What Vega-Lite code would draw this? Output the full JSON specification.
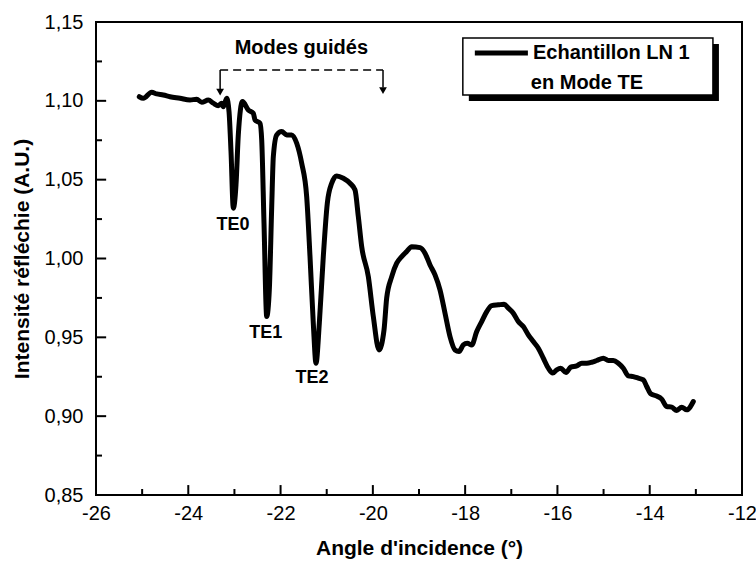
{
  "$schema": "https://vega.github.io/schema/vega-lite/v6.json",
  "width": 646,
  "height": 473,
  "autosize": {"type": "none"},
  "padding": {"left": 96, "top": 22, "right": 14, "bottom": 69},
  "background": "white",
  "config": {
    "view": {"stroke": "black", "strokeWidth": 2},
    "font": "Liberation Sans"
  },
  "datasets": {
    "curve": [
      {"x": -25.062, "y": 1.1026}, {"x": -24.975, "y": 1.1016}, {"x": -24.793, "y": 1.1054}, {"x": -24.684, "y": 1.1044},
      {"x": -24.541, "y": 1.1037}, {"x": -24.396, "y": 1.1026}, {"x": -24.180, "y": 1.1016}, {"x": -23.963, "y": 1.1005},
      {"x": -23.818, "y": 1.1010}, {"x": -23.709, "y": 1.0991}, {"x": -23.566, "y": 1.1005}, {"x": -23.458, "y": 1.0985},
      {"x": -23.349, "y": 1.0969}, {"x": -23.276, "y": 1.0985}, {"x": -23.241, "y": 1.0963}, {"x": -23.167, "y": 1.1016},
      {"x": -23.117, "y": 1.0931}, {"x": -23.074, "y": 1.0678}, {"x": -23.024, "y": 1.0319}, {"x": -22.966, "y": 1.0467},
      {"x": -22.916, "y": 1.0784}, {"x": -22.825, "y": 1.0995}, {"x": -22.699, "y": 1.0942}, {"x": -22.591, "y": 1.0921},
      {"x": -22.554, "y": 1.0879}, {"x": -22.446, "y": 1.0858}, {"x": -22.409, "y": 1.0752}, {"x": -22.359, "y": 1.0224},
      {"x": -22.300, "y": 0.9632}, {"x": -22.244, "y": 0.9801}, {"x": -22.192, "y": 1.0329}, {"x": -22.157, "y": 1.0646},
      {"x": -22.084, "y": 1.0784}, {"x": -21.975, "y": 1.0805}, {"x": -21.867, "y": 1.0784}, {"x": -21.759, "y": 1.0784},
      {"x": -21.650, "y": 1.0731}, {"x": -21.542, "y": 1.0604}, {"x": -21.434, "y": 1.0392}, {"x": -21.362, "y": 1.0012},
      {"x": -21.291, "y": 0.9590}, {"x": -21.232, "y": 0.9336}, {"x": -21.160, "y": 0.9590}, {"x": -21.074, "y": 1.0012},
      {"x": -20.987, "y": 1.0351}, {"x": -20.892, "y": 1.0477}, {"x": -20.783, "y": 1.0524}, {"x": -20.640, "y": 1.0509},
      {"x": -20.495, "y": 1.0477}, {"x": -20.387, "y": 1.0435}, {"x": -20.315, "y": 1.0266}, {"x": -20.242, "y": 1.0075},
      {"x": -20.098, "y": 0.9885}, {"x": -19.990, "y": 0.9632}, {"x": -19.867, "y": 0.9420}, {"x": -19.758, "y": 0.9547},
      {"x": -19.700, "y": 0.9750}, {"x": -19.591, "y": 0.9885}, {"x": -19.483, "y": 0.9970}, {"x": -19.375, "y": 1.0012},
      {"x": -19.266, "y": 1.0044}, {"x": -19.158, "y": 1.0075}, {"x": -18.978, "y": 1.0069}, {"x": -18.870, "y": 1.0034},
      {"x": -18.761, "y": 0.9959}, {"x": -18.653, "y": 0.9896}, {"x": -18.545, "y": 0.9801}, {"x": -18.436, "y": 0.9653},
      {"x": -18.328, "y": 0.9505}, {"x": -18.219, "y": 0.9420}, {"x": -18.133, "y": 0.9410}, {"x": -18.040, "y": 0.9452},
      {"x": -17.953, "y": 0.9463}, {"x": -17.857, "y": 0.9452}, {"x": -17.749, "y": 0.9537}, {"x": -17.641, "y": 0.9600},
      {"x": -17.532, "y": 0.9663}, {"x": -17.424, "y": 0.9701}, {"x": -17.281, "y": 0.9706}, {"x": -17.157, "y": 0.9710},
      {"x": -17.064, "y": 0.9685}, {"x": -16.956, "y": 0.9653}, {"x": -16.848, "y": 0.9600}, {"x": -16.739, "y": 0.9568},
      {"x": -16.631, "y": 0.9516}, {"x": -16.522, "y": 0.9473}, {"x": -16.414, "y": 0.9431}, {"x": -16.306, "y": 0.9368},
      {"x": -16.197, "y": 0.9304}, {"x": -16.102, "y": 0.9273}, {"x": -16.015, "y": 0.9294}, {"x": -15.929, "y": 0.9304},
      {"x": -15.814, "y": 0.9277}, {"x": -15.712, "y": 0.9311}, {"x": -15.582, "y": 0.9319}, {"x": -15.473, "y": 0.9336},
      {"x": -15.365, "y": 0.9336}, {"x": -15.257, "y": 0.9342}, {"x": -15.148, "y": 0.9353}, {"x": -15.005, "y": 0.9368},
      {"x": -14.897, "y": 0.9353}, {"x": -14.789, "y": 0.9353}, {"x": -14.680, "y": 0.9336}, {"x": -14.572, "y": 0.9304},
      {"x": -14.463, "y": 0.9256}, {"x": -14.355, "y": 0.9251}, {"x": -14.247, "y": 0.9241}, {"x": -14.138, "y": 0.9230},
      {"x": -14.065, "y": 0.9188}, {"x": -13.978, "y": 0.9142}, {"x": -13.863, "y": 0.9129}, {"x": -13.740, "y": 0.9108},
      {"x": -13.631, "y": 0.9061}, {"x": -13.523, "y": 0.9057}, {"x": -13.415, "y": 0.9036}, {"x": -13.306, "y": 0.9057},
      {"x": -13.198, "y": 0.9040}, {"x": -13.055, "y": 0.9093}
    ],
    "labels": [
      {"x": -23.03, "y": 1.0213, "text": "TE0"},
      {"x": -22.32, "y": 0.9528, "text": "TE1"},
      {"x": -21.32, "y": 0.9243, "text": "TE2"}
    ],
    "xticks": [
      {"t": -25, "major": false}, {"t": -24, "major": true}, {"t": -23, "major": false}, {"t": -22, "major": true},
      {"t": -21, "major": false}, {"t": -20, "major": true}, {"t": -19, "major": false}, {"t": -18, "major": true},
      {"t": -17, "major": false}, {"t": -16, "major": true}, {"t": -15, "major": false}, {"t": -14, "major": true},
      {"t": -13, "major": false}
    ],
    "yticks": [
      {"t": 0.875, "major": false}, {"t": 0.9, "major": true}, {"t": 0.925, "major": false}, {"t": 0.95, "major": true},
      {"t": 0.975, "major": false}, {"t": 1.0, "major": true}, {"t": 1.025, "major": false}, {"t": 1.05, "major": true},
      {"t": 1.075, "major": false}, {"t": 1.1, "major": true}, {"t": 1.125, "major": false}
    ]
  },
  "layer": [
    {
      "data": {"name": "curve"},
      "mark": {"type": "line", "color": "black", "strokeWidth": 5, "strokeJoin": "round", "strokeCap": "round", "interpolate": "monotone", "clip": true},
      "encoding": {
        "x": {
          "field": "x", "type": "quantitative",
          "scale": {"domain": [-26, -12], "nice": false, "zero": false},
          "axis": {
            "title": "Angle d'incidence (°)",
            "values": [-26, -24, -22, -20, -18, -16, -14, -12],
            "labelExpr": "'' + datum.value",
            "domain": false, "grid": false, "ticks": false,
            "labelPadding": 8,
            "labelFont": "Liberation Sans", "labelFontSize": 20, "labelColor": "black",
            "labelFlush": false, "labelOverlap": false,
            "titleFont": "Liberation Sans", "titleFontSize": 21, "titleFontWeight": "bold", "titleColor": "black",
            "titlePadding": 14
          }
        },
        "y": {
          "field": "y", "type": "quantitative",
          "scale": {"domain": [0.85, 1.15], "nice": false, "zero": false},
          "axis": {
            "title": "Intensité réfléchie (A.U.)",
            "values": [0.85, 0.9, 0.95, 1.0, 1.05, 1.1, 1.15],
            "labelExpr": "replace(format(datum.value, '.2f'), '.', ',')",
            "domain": false, "grid": false, "ticks": false,
            "labelPadding": 13,
            "labelFont": "Liberation Sans", "labelFontSize": 20, "labelColor": "black",
            "labelFlush": false, "labelOverlap": false,
            "titleFont": "Liberation Sans", "titleFontSize": 21, "titleFontWeight": "bold", "titleColor": "black",
            "titlePadding": 12
          }
        }
      }
    },
    {
      "data": {"name": "xticks"},
      "transform": [{"filter": "datum.major"}],
      "mark": {"type": "rule", "color": "black", "strokeWidth": 2},
      "encoding": {
        "x": {"field": "t", "type": "quantitative"},
        "y": {"datum": 0.85}, "y2": {"datum": 0.8563}
      }
    },
    {
      "data": {"name": "xticks"},
      "transform": [{"filter": "!datum.major"}],
      "mark": {"type": "rule", "color": "black", "strokeWidth": 2},
      "encoding": {
        "x": {"field": "t", "type": "quantitative"},
        "y": {"datum": 0.85}, "y2": {"datum": 0.8538}
      }
    },
    {
      "data": {"name": "yticks"},
      "transform": [{"filter": "datum.major"}],
      "mark": {"type": "rule", "color": "black", "strokeWidth": 2},
      "encoding": {
        "y": {"field": "t", "type": "quantitative"},
        "x": {"datum": -26}, "x2": {"datum": -25.78}
      }
    },
    {
      "data": {"name": "yticks"},
      "transform": [{"filter": "!datum.major"}],
      "mark": {"type": "rule", "color": "black", "strokeWidth": 2},
      "encoding": {
        "y": {"field": "t", "type": "quantitative"},
        "x": {"datum": -26}, "x2": {"datum": -25.87}
      }
    },
    {
      "data": {"values": [{"x": -17.92, "x2": -12.50, "y": 1.1361, "y2": 1.0999}]},
      "mark": {"type": "rect", "color": "black"},
      "encoding": {
        "x": {"field": "x", "type": "quantitative"}, "x2": {"field": "x2"},
        "y": {"field": "y", "type": "quantitative"}, "y2": {"field": "y2"}
      }
    },
    {
      "data": {"values": [{"x": -18.05, "x2": -12.63, "y": 1.1399, "y2": 1.1037}]},
      "mark": {"type": "rect", "fill": "white", "stroke": "black", "strokeWidth": 1.5},
      "encoding": {
        "x": {"field": "x", "type": "quantitative"}, "x2": {"field": "x2"},
        "y": {"field": "y", "type": "quantitative"}, "y2": {"field": "y2"}
      }
    },
    {
      "data": {"values": [{"x": -17.79, "x2": -16.64, "y": 1.1303}]},
      "mark": {"type": "rule", "color": "black", "strokeWidth": 5},
      "encoding": {
        "x": {"field": "x", "type": "quantitative"}, "x2": {"field": "x2"},
        "y": {"field": "y", "type": "quantitative"}
      }
    },
    {
      "data": {"values": [{"x": -16.53, "y": 1.1303, "text": "Echantillon LN 1"}]},
      "mark": {"type": "text", "align": "left", "baseline": "middle", "font": "Liberation Sans", "fontSize": 20, "fontWeight": "bold", "color": "black"},
      "encoding": {
        "x": {"field": "x", "type": "quantitative"},
        "y": {"field": "y", "type": "quantitative"},
        "text": {"field": "text"}
      }
    },
    {
      "data": {"values": [{"x": -15.36, "y": 1.1113, "text": "en Mode TE"}, {"x": -21.55, "y": 1.1335, "text": "Modes guidés"}]},
      "mark": {"type": "text", "align": "center", "baseline": "middle", "font": "Liberation Sans", "fontSize": 20, "fontWeight": "bold", "color": "black"},
      "encoding": {
        "x": {"field": "x", "type": "quantitative"},
        "y": {"field": "y", "type": "quantitative"},
        "text": {"field": "text"}
      }
    },
    {
      "data": {"name": "labels"},
      "mark": {"type": "text", "align": "center", "baseline": "middle", "font": "Liberation Sans", "fontSize": 18, "fontWeight": "bold", "color": "black"},
      "encoding": {
        "x": {"field": "x", "type": "quantitative"},
        "y": {"field": "y", "type": "quantitative"},
        "text": {"field": "text"}
      }
    },
    {
      "data": {"values": [{"x": -23.31, "x2": -19.78, "y": 1.1196}]},
      "mark": {"type": "rule", "color": "black", "strokeWidth": 1.5, "strokeDash": [8, 5]},
      "encoding": {
        "x": {"field": "x", "type": "quantitative"}, "x2": {"field": "x2"},
        "y": {"field": "y", "type": "quantitative"}
      }
    },
    {
      "data": {"values": [{"x": -23.31, "y": 1.1196, "y2": 1.1075}, {"x": -19.78, "y": 1.1196, "y2": 1.1085}]},
      "mark": {"type": "rule", "color": "black", "strokeWidth": 1.5},
      "encoding": {
        "x": {"field": "x", "type": "quantitative"},
        "y": {"field": "y", "type": "quantitative"}, "y2": {"field": "y2"}
      }
    },
    {
      "data": {"values": [{"x": -23.31, "y": 1.1055}, {"x": -19.78, "y": 1.1065}]},
      "mark": {"type": "point", "shape": "triangle-down", "filled": true, "color": "black", "size": 60, "opacity": 1},
      "encoding": {
        "x": {"field": "x", "type": "quantitative"},
        "y": {"field": "y", "type": "quantitative"}
      }
    }
  ]
}
